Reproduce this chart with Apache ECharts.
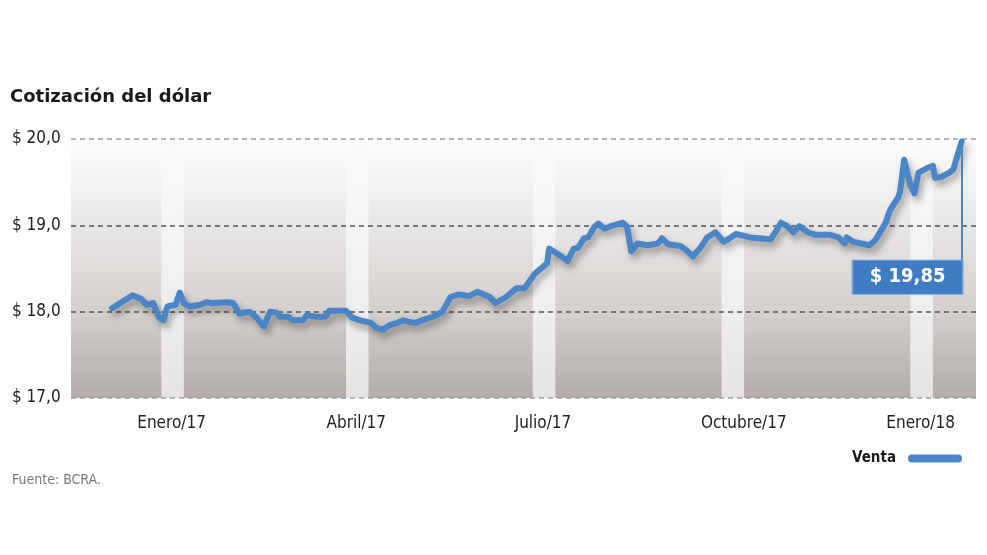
<!DOCTYPE html>
<html>
<head>
<meta charset="utf-8">
<script src="https://cdn.jsdelivr.net/npm/echarts@6/dist/echarts.min.js"></script>
<style>
html,body{margin:0;padding:0;background:#fff;}
#chart{width:987px;height:555px;}
</style>
</head>
<body>
<div id="chart"></div>
<script>
// ---- Data ----
const dates = ['2016-12-03','2016-12-07','2016-12-13','2016-12-17','2016-12-20','2016-12-23','2016-12-26','2016-12-28','2016-12-30',
'2017-01-03','2017-01-05','2017-01-07','2017-01-10','2017-01-15','2017-01-18','2017-01-21','2017-01-28','2017-01-31',
'2017-02-03','2017-02-08','2017-02-11','2017-02-15','2017-02-18','2017-02-21','2017-02-23','2017-02-27',
'2017-03-01','2017-03-06','2017-03-08','2017-03-13','2017-03-17','2017-03-19','2017-03-27','2017-03-30',
'2017-04-03','2017-04-08','2017-04-11','2017-04-14','2017-04-17','2017-04-21','2017-04-24','2017-04-27','2017-04-30',
'2017-05-03','2017-05-07','2017-05-10','2017-05-13','2017-05-16','2017-05-17','2017-05-21','2017-05-26','2017-05-30',
'2017-06-05','2017-06-08','2017-06-13','2017-06-18','2017-06-22','2017-06-27',
'2017-07-03','2017-07-04','2017-07-08','2017-07-13','2017-07-16','2017-07-18','2017-07-21','2017-07-23','2017-07-26','2017-07-28','2017-07-31',
'2017-08-03','2017-08-09','2017-08-11','2017-08-13','2017-08-16','2017-08-21','2017-08-26','2017-08-28','2017-08-31',
'2017-09-06','2017-09-09','2017-09-12','2017-09-16','2017-09-19','2017-09-23','2017-09-27','2017-09-30',
'2017-10-03','2017-10-10','2017-10-20','2017-10-23','2017-10-25','2017-10-28','2017-10-31',
'2017-11-03','2017-11-07','2017-11-11','2017-11-18','2017-11-22','2017-11-25','2017-11-26','2017-11-29',
'2017-12-07','2017-12-10','2017-12-13','2017-12-15','2017-12-17','2017-12-21','2017-12-22','2017-12-24','2017-12-27','2017-12-29','2017-12-31',
'2018-01-04','2018-01-07','2018-01-08','2018-01-11','2018-01-15','2018-01-17','2018-01-21'];

const venta = [18.04,18.10,18.19,18.15,18.08,18.10,17.93,17.90,18.06,
18.08,18.22,18.10,18.06,18.08,18.11,18.10,18.11,18.10,
17.98,18.00,17.94,17.83,18.00,17.99,17.94,17.94,
17.90,17.90,17.96,17.94,17.94,18.01,18.01,17.93,
17.90,17.87,17.81,17.79,17.84,17.87,17.90,17.88,17.87,
17.90,17.93,17.96,18.00,18.13,18.17,18.20,18.18,18.23,
18.17,18.10,18.17,18.27,18.27,18.44,
18.56,18.73,18.67,18.59,18.73,18.74,18.85,18.86,18.98,19.02,18.96,
18.99,19.03,18.98,18.70,18.79,18.77,18.79,18.85,18.78,
18.76,18.71,18.64,18.75,18.86,18.92,18.81,18.85,
18.90,18.86,18.84,18.95,19.03,18.99,18.92,
18.99,18.92,18.89,18.89,18.86,18.79,18.86,18.81,
18.77,18.83,18.95,19.03,19.17,19.32,19.39,19.76,19.47,19.37,19.61,
19.66,19.69,19.55,19.56,19.61,19.65,19.97];

const tickDates = ['2017-01-01','2017-04-01','2017-07-01','2017-10-01','2018-01-01'];
const tickLabels = ['Enero/17','Abril/17','Julio/17','Octubre/17','Enero/18'];
const bandRanges = [['2016-12-27','2017-01-07'],['2017-03-27','2017-04-07'],['2017-06-26','2017-07-07'],['2017-09-26','2017-10-07'],['2017-12-27','2018-01-07']];
const yTicks = [17, 18, 19, 20];
const seriesName = 'Venta';
const calloutText = '$ 19,85';
const titleText = 'Cotización del dólar';
const sourceText = 'Fuente: BCRA.';

// ---- Build ----
const parse = s => { const p = s.split('-').map(Number); return Date.UTC(p[0], p[1] - 1, p[2]); };
const tickTs = tickDates.map(parse);
const lineData = dates.map((d, i) => [parse(d), venta[i]]);
const last = lineData[lineData.length - 1];
const condensed = '"DejaVu Sans Condensed", "Liberation Sans Narrow", "DejaVu Sans", sans-serif';
const blue = '#4a85c8';

const chart = echarts.init(document.getElementById('chart'), null, {renderer: 'canvas'});
chart.setOption({
  animation: false,
  backgroundColor: '#ffffff',
  title: [
    {text: titleText, left: 10, top: 88, padding: 0,
     textStyle: {fontFamily: '"DejaVu Sans", sans-serif', fontWeight: 'bold', fontSize: 18, color: '#1a1a1a'}},
    {text: sourceText, left: 12, top: 473, padding: 0,
     textStyle: {fontFamily: condensed, fontWeight: 'normal', fontSize: 14, color: '#7a7a7a'}}
  ],
  legend: {
    data: [{name: seriesName}],
    right: 20, top: 446,
    align: 'right',
    itemWidth: 54, itemHeight: 8,
    icon: 'path://M4,0 L50,0 A4,4 0 0 1 50,8 L4,8 A4,4 0 0 1 4,0 Z',
    textStyle: {fontFamily: condensed, fontWeight: 'bold', fontSize: 15, color: '#1a1a1a', padding: [0, 7, 0, 0]}
  },
  grid: {
    left: 71, right: 11, top: 139, bottom: 157,
    show: true, borderWidth: 0,
    backgroundColor: {
      type: 'linear', x: 0, y: 0, x2: 0, y2: 1,
      colorStops: [
        {offset: 0, color: '#fdfdfd'},
        {offset: 0.33, color: '#e9e7e6'},
        {offset: 0.67, color: '#d3cfcd'},
        {offset: 1, color: '#b3aca9'}
      ]
    }
  },
  xAxis: {
    type: 'value',
    min: parse('2016-11-13'),
    max: parse('2018-01-28'),
    axisLine: {show: false},
    axisTick: {show: false},
    splitLine: {show: false},
    axisLabel: {
      customValues: tickTs,
      margin: 17,
      fontFamily: condensed, fontSize: 17, color: '#222',
      formatter: function (v) {
        const i = tickTs.indexOf(v);
        if (i < 0) return '';
        return i === 3 ? '{o|' + tickLabels[i] + '}' : tickLabels[i];
      },
      rich: {
        o: {fontFamily: condensed, fontSize: 17, color: '#222', padding: [0, 0, 0, 24]}
      }
    }
  },
  yAxis: {
    type: 'value',
    min: 17, max: 20, interval: 1,
    z: 1.5,
    axisLine: {show: false},
    axisTick: {show: false},
    axisLabel: {
      align: 'left', margin: 59,
      fontFamily: condensed, fontSize: 17, color: '#222',
      formatter: v => yTicks.indexOf(v) >= 0 ? '$ ' + v.toFixed(1).replace('.', ',') : ''
    },
    splitLine: {
      show: true,
      lineStyle: {color: ['#a0a0a0', '#555555', '#555555', '#a0a0a0'], width: 1.6, type: [5, 4]}
    }
  },
  series: [
    {
      name: 'bands',
      type: 'line',
      data: lineData,
      z: 1,
      silent: true,
      symbol: 'none',
      lineStyle: {width: 0, opacity: 0},
      legendHoverLink: false,
      markArea: {
        silent: true,
        itemStyle: {color: 'rgba(250,249,249,0.72)'},
        data: bandRanges.map(r => [{xAxis: parse(r[0])}, {xAxis: parse(r[1])}])
      }
    },
    {
      name: seriesName,
      type: 'line',
      data: lineData,
      z: 3,
      symbol: 'none',
      color: blue,
      lineStyle: {
        width: 6, color: blue, join: 'round', cap: 'round',
        shadowColor: 'rgba(0,0,0,0.35)', shadowBlur: 7, shadowOffsetX: 3, shadowOffsetY: 5
      },
      markLine: {
        silent: true,
        symbol: 'none',
        label: {show: false},
        lineStyle: {color: blue, width: 2, type: 'solid', shadowBlur: 0},
        data: [[{coord: last}, {coord: [last[0], 18.6]}]]
      },
      markPoint: {
        silent: true,
        symbol: 'rect',
        symbolSize: [110, 34],
        symbolOffset: [-54, 0],
        itemStyle: {color: '#3f7cc3', borderColor: '#6b9fd6', borderWidth: 1},
        label: {
          show: true, position: 'inside',
          formatter: calloutText,
          fontFamily: condensed, fontWeight: 'bold', fontSize: 20, color: '#ffffff'
        },
        data: [{coord: [last[0], 18.4]}]
      }
    }
  ]
});
</script>
</body>
</html>
